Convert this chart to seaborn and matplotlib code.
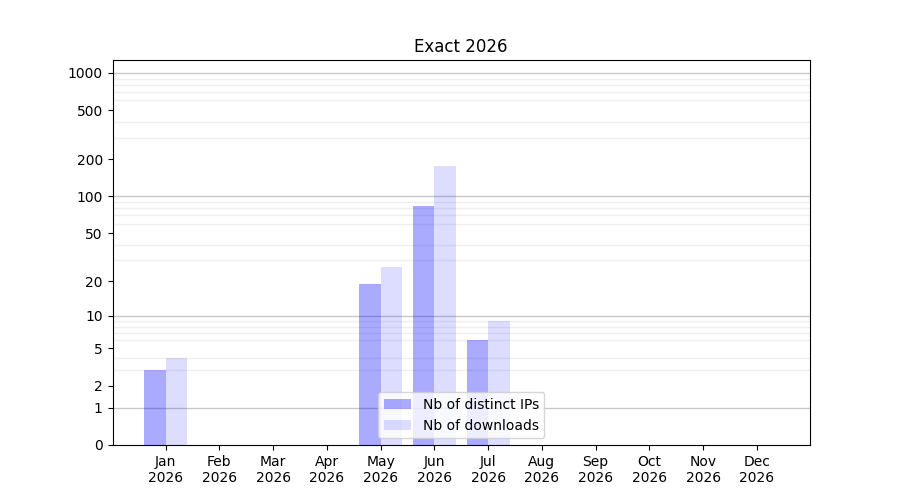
import numpy as np
import pandas as pd
import matplotlib
matplotlib.use("Agg")
import matplotlib.pyplot as plt
import seaborn as sns

# Monthly counts
months = ["Jan", "Feb", "Mar", "Apr", "May", "Jun",
          "Jul", "Aug", "Sep", "Oct", "Nov", "Dec"]
year = "2026"
distinct_ips = [3, 0, 0, 0, 19, 84, 6, 0, 0, 0, 0, 0]
downloads = [4, 0, 0, 0, 26, 176, 9, 0, 0, 0, 0, 0]
series_names = ["Nb of distinct IPs", "Nb of downloads"]
y_ticks = [0, 1, 2, 5, 10, 20, 50, 100, 200, 500, 1000]

labels = [f"{m}\n{year}" for m in months]
df = pd.DataFrame({
    "month": labels * 2,
    "count": distinct_ips + downloads,
    "series": [series_names[0]] * 12 + [series_names[1]] * 12,
})


# y axis: log10(1 + x) so that zero stays on the axis
def fwd(v):
    return np.log10(1 + np.clip(v, 0, None))


def inv(v):
    return 10 ** v - 1


fig, ax = plt.subplots(figsize=(9, 5), dpi=100)
ax.set_yscale("function", functions=(fwd, inv))

sns.barplot(data=df, x="month", y="count", hue="series", order=labels,
            hue_order=series_names, saturation=1, linewidth=0,
            legend=False, ax=ax, zorder=2)

fills = [(0, 0, 1, 0.333), (0, 0, 1, 0.133)]
for cont, col in zip(ax.containers, fills):
    for bar in cont:
        bar.set_facecolor(col)
        bar.set_edgecolor("none")

ax.set_xlim(-0.99, 11.99)
ax.set_ylim(0, 1270)

# gridlines: light ones for every 1..9 step, darker at each decade
minor = [m * d for d in (1, 10, 100) for m in range(2, 10)]
ax.yaxis.set_major_locator(matplotlib.ticker.FixedLocator(y_ticks))
ax.yaxis.set_major_formatter(matplotlib.ticker.FixedFormatter([str(t) for t in y_ticks]))
ax.yaxis.set_minor_locator(matplotlib.ticker.FixedLocator(minor))
ax.tick_params(axis="y", which="minor", length=0)
ax.grid(False)
ax.grid(axis="y", which="minor", color="#efefef", linewidth=1, zorder=0)
for d in (1, 10, 100, 1000):
    ax.axhline(d, color="#c8c8c8", linewidth=1, zorder=1)
ax.set_axisbelow(True)

ax.set_xlabel("")
ax.set_ylabel("")
ax.set_title("Exact 2026")
ax.legend(ax.containers, series_names, loc="lower center")

fig.savefig("out.png", dpi=100)
